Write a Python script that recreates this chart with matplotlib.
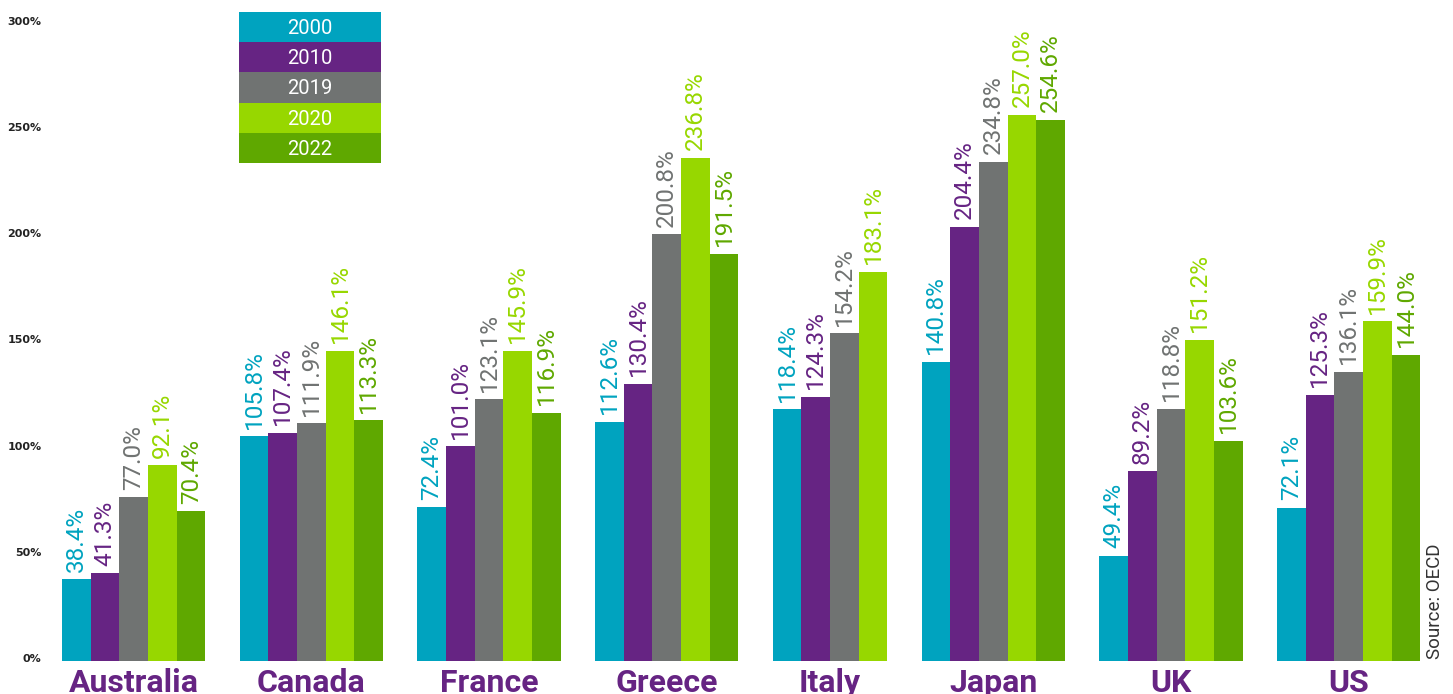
import matplotlib.pyplot as plt
import numpy as np
from matplotlib.patches import Rectangle

countries = ["Australia", "Canada", "France", "Greece", "Italy", "Japan", "UK", "US"]
years = ["2000", "2010", "2019", "2020", "2022"]
debt_2000 = [38.4, 105.8, 72.4, 112.6, 118.4, 140.8, 49.4, 72.1]
debt_2010 = [41.3, 107.4, 101.0, 130.4, 124.3, 204.4, 89.2, 125.3]
debt_2019 = [77.0, 111.9, 123.1, 200.8, 154.2, 234.8, 118.8, 136.1]
debt_2020 = [92.1, 146.1, 145.9, 236.8, 183.1, 257.0, 151.2, 159.9]
debt_2022 = [70.4, 113.3, 116.9, 191.5, np.nan, 254.6, 103.6, 144.0]
series = [debt_2000, debt_2010, debt_2019, debt_2020, debt_2022]
colors = ["#00A3BF", "#662483", "#707372", "#97D700", "#5FA800"]

W, H = 1453, 694
fig = plt.figure(figsize=(W / 100, H / 100), dpi=100)
# axes in pixels: left 50, right 1440, y=0 at 661, 2.125 px per percent point
ymax = 301.5
ax = fig.add_axes([50 / W, (H - 661) / H, 1390 / W, ymax * 2.125 / H])

# bars laid out one after another (missing values skipped), gap between countries
gap = 1.19
cursor = 0.0
centers = []
for ci in range(len(countries)):
    start = cursor
    for vals, c in zip(series, colors):
        v = vals[ci]
        if np.isnan(v):
            continue
        xp = cursor + 0.5
        ax.bar(xp, v, width=1.0, color=c, linewidth=0)
        ax.annotate(f"{v:.1f}%", (xp, v), xytext=(0, 5.5), textcoords="offset points",
                    rotation=90, ha="center", va="bottom", color=c,
                    fontsize=17.5, family="Roboto", annotation_clip=False)
        cursor += 1
    centers.append((start + cursor) / 2)
    cursor += gap

ticks = [0, 50, 100, 150, 200, 250, 300]
# labels sit ~3 px above their value in the original (no tick marks are drawn)
ax.set_yticks([t + 1.4 for t in ticks])
ax.set_yticklabels([f"{t}%" for t in ticks],
                   fontsize=8, fontweight="bold", family="DejaVu Sans", color="#222222")
ax.set_xticks(centers)
ax.set_xticklabels(countries, fontsize=23, fontweight="bold", family="Roboto", color="#662483")
ax.set_xlim(-0.418, -0.418 + 1390 / 28.7)
ax.set_ylim(0, ymax)
ax.tick_params(axis="both", length=0)
ax.tick_params(axis="x", pad=5)
ax.tick_params(axis="y", pad=6)
for s in ax.spines.values():
    s.set_visible(False)

# legend as stacked colored boxes
lx0, lx1 = 239, 381
ly = 12
rh = 30.2
for i, (yr, c) in enumerate(zip(years, colors)):
    top = ly + i * rh
    fig.patches.append(Rectangle((lx0 / W, (H - top - rh) / H), (lx1 - lx0) / W, rh / H,
                                 transform=fig.transFigure, color=c, linewidth=0, zorder=5))
    fig.text((lx0 + lx1) / 2 / W, (H - top - rh / 2 - 1.5) / H, yr, color="white",
             ha="center", va="center", fontsize=14.5, family="Roboto", zorder=6)

fig.text(1435 / W, (H - 659) / H, "Source: OECD", rotation=90, ha="center", va="bottom",
         fontsize=13.5, family="Roboto", color="#333333")

fig.savefig("out.png", dpi=100)
